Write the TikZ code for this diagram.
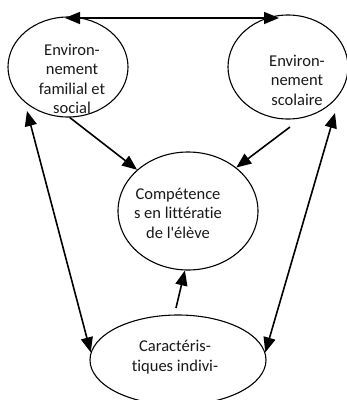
\documentclass[tikz,border=0pt]{standalone}
\usepackage{fontspec}
\setmainfont{Carlito}[Ligatures={NoCommon}]
\usetikzlibrary{shapes.geometric,arrows.meta}
\tikzset{>={Triangle[length=15pt,width=12pt]}}
\tikzset{bulle/.style={draw,ellipse,line width=1.1pt,inner sep=0pt},
  etiquette/.style={align=center,inner sep=0pt,text=black!90,
    font=\fontsize{16.5}{19.5}\selectfont},
  fleche/.style={line width=1.6pt}}

\begin{document}
\begin{tikzpicture}[x=1pt,y=-1pt]
\useasboundingbox (0,0) rectangle (347,400);
% les quatre ellipses
\node[bulle,minimum width=120pt,minimum height=100pt] (fam) at (68,67) {};
\node[bulle,minimum width=120pt,minimum height=104pt] (sco) at (288,67) {};
\node[bulle,minimum width=140pt,minimum height=118pt] (comp) at (188,211) {};
\node[bulle,minimum width=176pt,minimum height=90pt] (carac) at (178,360) {};
\node[etiquette] (tfam) at (72,79) {Environ-\\nement\\familial et\\social};
\node[etiquette] (tsco) at (297,80) {Environ-\\nement\\scolaire};
\node[etiquette] (tcomp) at (178,213) {Compétence\\s en littératie\\de l\textquotesingle élève};
\node[etiquette] (tcarac) at (175,357) {Caractéris-\\tiques indivi-};
% bouts libres
\coordinate (hautG) at (65,18);
\coordinate (hautD) at (279,18);
\coordinate (famB) at (27,111);
\coordinate (scoB) at (335,113);
\coordinate (scoS) at (290,127);
\coordinate (caracN) at (176,308);
\draw[fleche,<->] (hautG) -- (hautD);
\draw[fleche,->] (fam.-88) -- (comp.141);
\draw[fleche,->] (scoS) -- (comp.42.5);
\draw[fleche,->] (caracN) -- (comp.-93);
\draw[fleche,<->] (famB) -- (carac.175);
\draw[fleche,<->] (scoB) -- (carac.5);
\end{tikzpicture}
\end{document}
